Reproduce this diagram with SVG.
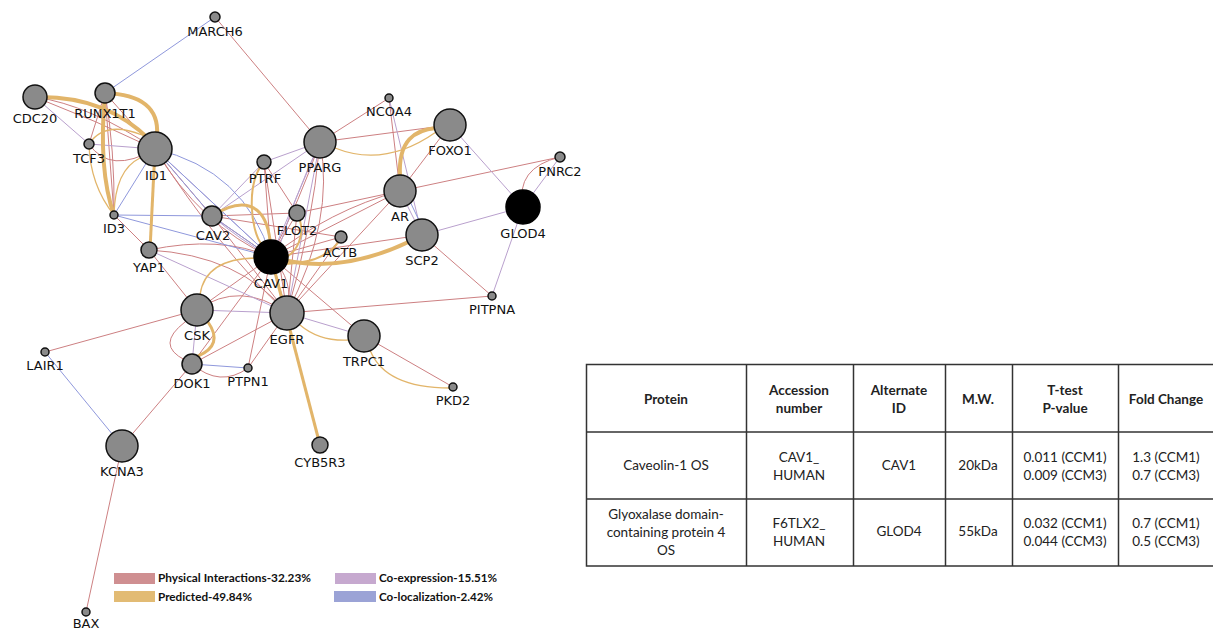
<svg xmlns="http://www.w3.org/2000/svg" width="1213" height="630" viewBox="0 0 1213 630">
<style>
.bg{fill:#ffffff}
.n{fill:#8a8a8a;stroke:#111;stroke-width:1.5}
.nb{fill:#000;stroke:#000;stroke-width:1.5}
.lb{font-family:"DejaVu Sans",sans-serif;font-size:13px;fill:#111;text-anchor:middle}
.e{fill:none;stroke-width:1}
.p{stroke:#cd8082}
.o{stroke:#e2b56a}
.c{stroke:#b9a0cd}
.l{stroke:#8f98dc}
.t1{stroke-width:1.3}
.t2{stroke-width:2}
.t3{stroke-width:3}
.t4{stroke-width:4}
.lg{font-family:Lato,"Liberation Sans",sans-serif;font-size:11.5px;font-weight:bold;fill:#111}
.tb{fill:none;stroke:#333;stroke-width:1.5}
.th{font-family:Lato,"Liberation Sans",sans-serif;font-size:13.5px;font-weight:bold;fill:#222;text-anchor:middle}
.td{font-family:Lato,"Liberation Sans",sans-serif;font-size:13.5px;fill:#222;text-anchor:middle}
</style>
<rect class="bg" x="0" y="0" width="1213" height="630"/>
<g id="connectors">
<path class="e p" d="M215 17 L320 142"/>
<path class="e p" d="M35 97 Q95 120 155 149"/>
<path class="e p" d="M35 97 Q90 105 155 149"/>
<path class="e p" d="M105 93 L155 149"/>
<path class="e p" d="M105 93 L114 215"/>
<path class="e p" d="M105 93 Q115 150 114 215"/>
<path class="e p" d="M105 93 L89 144"/>
<path class="e p" d="M89 144 Q110 175 155 149"/>
<path class="e p" d="M155 149 L212 216"/>
<path class="e p" d="M155 149 Q200 225 271 257"/>
<path class="e p" d="M155 149 Q220 250 287 313"/>
<path class="e p" d="M114 215 L149 250"/>
<path class="e p" d="M149 250 L197 310"/>
<path class="e p" d="M149 250 Q220 235 271 257"/>
<path class="e p" d="M149 250 Q240 255 287 313"/>
<path class="e p" d="M45 352 L197 310"/>
<path class="e p" d="M122 446 L192 364"/>
<path class="e p" d="M122 446 L86 612"/>
<path class="e p" d="M185 322 Q155 345 185 360"/>
<path class="e p" d="M192 364 Q220 388 248 368"/>
<path class="e p" d="M192 364 L287 313"/>
<path class="e p" d="M192 364 L271 257"/>
<path class="e p" d="M248 368 L287 313"/>
<path class="e p" d="M248 368 L271 257"/>
<path class="e p" d="M197 310 Q240 280 287 313"/>
<path class="e p" d="M197 310 L271 257"/>
<path class="e p" d="M212 216 L271 257"/>
<path class="e p" d="M212 216 L287 313"/>
<path class="e p" d="M212 216 L341 237"/>
<path class="e p" d="M212 216 L297 213"/>
<path class="e p" d="M264 162 L271 257"/>
<path class="e p" d="M264 162 L287 313"/>
<path class="e p" d="M264 162 L297 213"/>
<path class="e p" d="M320 142 Q300 200 271 257"/>
<path class="e p" d="M320 142 Q312 230 287 313"/>
<path class="e p" d="M320 142 Q335 220 287 313"/>
<path class="e p" d="M320 142 L389 98"/>
<path class="e p" d="M320 142 L450 125"/>
<path class="e p" d="M389 98 L400 191"/>
<path class="e p" d="M450 125 L400 191"/>
<path class="e p" d="M400 191 L560 157"/>
<path class="e p" d="M523 207 Q515 168 560 157"/>
<path class="e p" d="M400 191 L271 257"/>
<path class="e p" d="M400 191 Q330 210 271 257"/>
<path class="e p" d="M400 191 L287 313"/>
<path class="e p" d="M400 191 L297 213"/>
<path class="e p" d="M422 235 L271 257"/>
<path class="e p" d="M422 235 L492 296"/>
<path class="e p" d="M287 313 L492 296"/>
<path class="e p" d="M341 237 L271 257"/>
<path class="e p" d="M341 237 L287 313"/>
<path class="e p" d="M297 213 L271 257"/>
<path class="e p" d="M297 213 L287 313"/>
<path class="e p" d="M364 336 L271 257"/>
<path class="e p" d="M364 336 L453 387"/>
<path class="e p" d="M271 257 L287 313"/>
<path class="e p" d="M271 257 Q295 280 287 313"/>
<path class="e c" d="M35 97 L89 144"/>
<path class="e c" d="M89 144 L155 149"/>
<path class="e c" d="M155 149 L271 257"/>
<path class="e c" d="M264 162 L320 142"/>
<path class="e c" d="M264 162 L212 216"/>
<path class="e c" d="M320 142 L212 216"/>
<path class="e c" d="M320 142 L271 257"/>
<path class="e c" d="M320 142 Q295 195 276 257"/>
<path class="e c" d="M320 142 L287 313"/>
<path class="e c" d="M389 98 L422 235"/>
<path class="e c" d="M450 125 L523 207"/>
<path class="e c" d="M422 235 L523 207"/>
<path class="e c" d="M523 207 L492 296"/>
<path class="e c" d="M523 207 L560 157"/>
<path class="e c" d="M197 310 L287 313"/>
<path class="e c" d="M197 310 L192 364"/>
<path class="e c" d="M149 250 L287 313"/>
<path class="e c" d="M287 313 L364 336"/>
<path class="e c" d="M212 216 Q240 240 271 257"/>
<path class="e c" d="M400 191 L422 235"/>
<path class="e l" d="M215 17 L105 93"/>
<path class="e l" d="M45 352 L122 446"/>
<path class="e l" d="M155 149 L212 216"/>
<path class="e l" d="M155 149 Q245 170 271 257"/>
<path class="e l" d="M155 149 L271 257"/>
<path class="e l" d="M114 215 L212 216"/>
<path class="e l" d="M114 215 L271 257"/>
<path class="e l" d="M114 215 L155 149"/>
<path class="e l" d="M192 364 L248 368"/>
<path class="e l" d="M405 191 L426 235"/>
<path class="e l" d="M212 216 L271 257"/>
<path class="e o t4" d="M35 97 Q105 95 150 140"/>
<path class="e o t4" d="M105 93 Q160 95 157 135"/>
<path class="e o t4" d="M105 93 Q98 170 114 215"/>
<path class="e o t3" d="M155 149 L150 250"/>
<path class="e o t4" d="M271 257 Q343 278 422 235"/>
<path class="e o t4" d="M400 176 C398 140 415 130 436 128"/>
<path class="e o t3" d="M212 216 C240 198 265 200 270 240"/>
<path class="e o t2" d="M264 162 C246 182 250 230 262 245"/>
<path class="e o t2" d="M297 213 C308 235 296 255 280 260"/>
<path class="e o t2" d="M341 237 Q330 262 285 264"/>
<path class="e o t3" d="M271 257 L320 445"/>
<path class="e o t3" d="M208 322 Q224 345 198 356"/>
<path class="e o t1" d="M200 295 Q205 258 258 258"/>
<path class="e o t1" d="M300 325 Q320 342 350 340"/>
<path class="e o t1" d="M370 350 Q385 388 450 388"/>
<path class="e o t1" d="M335 148 Q385 168 436 132"/>
<path class="e o t1" d="M114 215 Q115 170 140 158"/>
<path class="e o t1" d="M114 215 Q90 185 89 144"/>
<path class="e o t1" d="M89 144 Q105 120 142 135"/>
</g>
<g id="node-MARCH6"><circle class="n" cx="215" cy="17" r="5"/><text class="lb" x="215" y="36">MARCH6</text></g>
<g id="node-CDC20"><circle class="n" cx="35" cy="97" r="12"/><text class="lb" x="35" y="123">CDC20</text></g>
<g id="node-RUNX1T1"><circle class="n" cx="105" cy="93" r="10"/><text class="lb" x="105" y="118">RUNX1T1</text></g>
<g id="node-TCF3"><circle class="n" cx="89" cy="144" r="5"/><text class="lb" x="89" y="163">TCF3</text></g>
<g id="node-ID1"><circle class="n" cx="155" cy="149" r="17"/><text class="lb" x="156" y="180">ID1</text></g>
<g id="node-ID3"><circle class="n" cx="114" cy="215" r="4"/><text class="lb" x="114" y="233">ID3</text></g>
<g id="node-YAP1"><circle class="n" cx="149" cy="250" r="8"/><text class="lb" x="149" y="272">YAP1</text></g>
<g id="node-CAV2"><circle class="n" cx="212" cy="216" r="10"/><text class="lb" x="213" y="240">CAV2</text></g>
<g id="node-PTRF"><circle class="n" cx="264" cy="162" r="7"/><text class="lb" x="265" y="183">PTRF</text></g>
<g id="node-PPARG"><circle class="n" cx="320" cy="142" r="16"/><text class="lb" x="320" y="172">PPARG</text></g>
<g id="node-NCOA4"><circle class="n" cx="389" cy="98" r="4"/><text class="lb" x="389" y="116">NCOA4</text></g>
<g id="node-FOXO1"><circle class="n" cx="450" cy="125" r="16"/><text class="lb" x="450" y="155">FOXO1</text></g>
<g id="node-PNRC2"><circle class="n" cx="560" cy="157" r="5"/><text class="lb" x="560" y="176">PNRC2</text></g>
<g id="node-AR"><circle class="n" cx="400" cy="191" r="16"/><text class="lb" x="400" y="221">AR</text></g>
<g id="node-GLOD4"><circle class="nb" cx="523" cy="207" r="17"/><text class="lb" x="523" y="238">GLOD4</text></g>
<g id="node-FLOT2"><circle class="n" cx="297" cy="213" r="8"/><text class="lb" x="297" y="235">FLOT2</text></g>
<g id="node-ACTB"><circle class="n" cx="341" cy="237" r="6"/><text class="lb" x="340" y="257">ACTB</text></g>
<g id="node-SCP2"><circle class="n" cx="422" cy="235" r="16"/><text class="lb" x="422" y="265">SCP2</text></g>
<g id="node-CAV1"><circle class="nb" cx="271" cy="257" r="17"/><text class="lb" x="271" y="288">CAV1</text></g>
<g id="node-CSK"><circle class="n" cx="197" cy="310" r="16"/><text class="lb" x="197" y="340">CSK</text></g>
<g id="node-EGFR"><circle class="n" cx="287" cy="313" r="17"/><text class="lb" x="287" y="344">EGFR</text></g>
<g id="node-TRPC1"><circle class="n" cx="364" cy="336" r="16"/><text class="lb" x="364" y="366">TRPC1</text></g>
<g id="node-PITPNA"><circle class="n" cx="492" cy="296" r="4"/><text class="lb" x="492" y="314">PITPNA</text></g>
<g id="node-PKD2"><circle class="n" cx="453" cy="387" r="4"/><text class="lb" x="453" y="405">PKD2</text></g>
<g id="node-DOK1"><circle class="n" cx="192" cy="364" r="10"/><text class="lb" x="192" y="388">DOK1</text></g>
<g id="node-PTPN1"><circle class="n" cx="248" cy="368" r="4"/><text class="lb" x="248" y="386">PTPN1</text></g>
<g id="node-LAIR1"><circle class="n" cx="45" cy="352" r="4"/><text class="lb" x="45" y="370">LAIR1</text></g>
<g id="node-KCNA3"><circle class="n" cx="122" cy="446" r="16"/><text class="lb" x="122" y="476">KCNA3</text></g>
<g id="node-CYB5R3"><circle class="n" cx="320" cy="445" r="8"/><text class="lb" x="320" y="467">CYB5R3</text></g>
<g id="node-BAX"><circle class="n" cx="86" cy="612" r="4"/><text class="lb" x="86" y="628">BAX</text></g>
<g id="legend">
<rect x="114" y="573" width="41" height="11" fill="#cf8f91"/>
<text class="lg" x="158" y="582" textLength="153" lengthAdjust="spacingAndGlyphs">Physical Interactions-32.23%</text>
<rect x="114" y="591" width="41" height="11" fill="#e2bb74"/>
<text class="lg" x="158" y="601" textLength="94" lengthAdjust="spacingAndGlyphs">Predicted-49.84%</text>
<rect x="335" y="573" width="41" height="11" fill="#c6a9cf"/>
<text class="lg" x="379" y="582" textLength="118" lengthAdjust="spacingAndGlyphs">Co-expression-15.51%</text>
<rect x="334" y="591" width="42" height="11" fill="#9ba3d6"/>
<text class="lg" x="379" y="601" textLength="114" lengthAdjust="spacingAndGlyphs">Co-localization-2.42%</text>
</g>
<g id="table">
<rect class="tb" x="586.5" y="364.5" width="640" height="201.5"/>
<line class="tb" x1="586" y1="432" x2="1213" y2="432"/>
<line class="tb" x1="586" y1="499" x2="1213" y2="499"/>
<line class="tb" x1="746.5" y1="364" x2="746.5" y2="566"/>
<line class="tb" x1="853.5" y1="364" x2="853.5" y2="566"/>
<line class="tb" x1="945.5" y1="364" x2="945.5" y2="566"/>
<line class="tb" x1="1012.5" y1="364" x2="1012.5" y2="566"/>
<line class="tb" x1="1118.5" y1="364" x2="1118.5" y2="566"/>
<text class="th" x="666" y="404">Protein</text>
<text class="th" x="799" y="395">Accession</text>
<text class="th" x="799" y="413">number</text>
<text class="th" x="899" y="395">Alternate</text>
<text class="th" x="899" y="413">ID</text>
<text class="th" x="978" y="404">M.W.</text>
<text class="th" x="1065" y="395">T-test</text>
<text class="th" x="1065" y="413">P-value</text>
<text class="th" x="1166" y="404">Fold Change</text>
<text class="td" x="666" y="470">Caveolin-1 OS</text>
<text class="td" x="799" y="462">CAV1_</text>
<text class="td" x="799" y="480">HUMAN</text>
<text class="td" x="899" y="470">CAV1</text>
<text class="td" x="978" y="470">20kDa</text>
<text class="td" x="1065" y="462">0.011 (CCM1)</text>
<text class="td" x="1065" y="480">0.009 (CCM3)</text>
<text class="td" x="1166" y="462">1.3 (CCM1)</text>
<text class="td" x="1166" y="480">0.7 (CCM3)</text>
<text class="td" x="666" y="519">Glyoxalase domain-</text>
<text class="td" x="666" y="537">containing protein 4</text>
<text class="td" x="666" y="555">OS</text>
<text class="td" x="799" y="528">F6TLX2_</text>
<text class="td" x="799" y="546">HUMAN</text>
<text class="td" x="899" y="536">GLOD4</text>
<text class="td" x="978" y="536">55kDa</text>
<text class="td" x="1065" y="528">0.032 (CCM1)</text>
<text class="td" x="1065" y="546">0.044 (CCM3)</text>
<text class="td" x="1166" y="528">0.7 (CCM1)</text>
<text class="td" x="1166" y="546">0.5 (CCM3)</text>
</g>
</svg>
